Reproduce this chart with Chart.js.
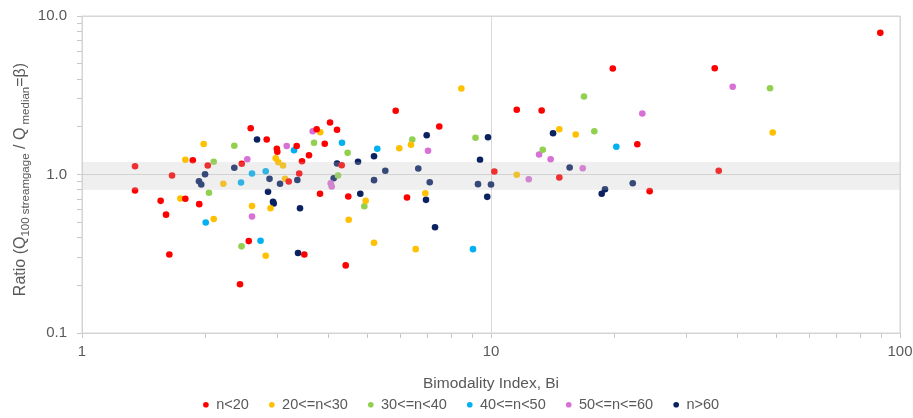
<!DOCTYPE html>
<html><head><meta charset="utf-8">
<script src="https://cdn.jsdelivr.net/npm/chart.js@4.4.1/dist/chart.umd.min.js"></script>
<style>html,body{margin:0;padding:0;background:#fff;}#wrap{width:913px;height:418px;position:relative;}</style>
</head><body><div id="wrap"><canvas id="c"></canvas></div>
<script>
const seriesLabels = ['n<20', '20<=n<30', '30<=n<40', '40<=n<50', '50<=n<=60', 'n>60'];
const seriesColors = ['#FF0000', '#FFC000', '#92D050', '#00B0F0', '#D771D5', '#0A2260'];

const biN20 = [1.348, 1.348, 1.660, 1.557, 1.605, 1.635, 1.789, 1.866, 1.935, 2.030, 2.458, 2.434, 2.585, 2.557, 2.829, 2.995, 3.003, 3.202, 3.349, 3.397, 3.451, 3.589, 3.748, 3.922, 4.041, 4.203, 4.315, 3.819, 4.478, 3.496, 4.413, 5.848, 6.232, 7.474, 10.19, 11.56, 13.30, 14.69, 19.85, 22.79, 24.43, 35.24, 36.04, 89.5];
const ratioN20 = [1.128, 0.793, 0.986, 0.682, 0.558, 0.313, 0.703, 1.229, 0.650, 1.140, 1.170, 0.203, 1.957, 0.380, 1.663, 1.453, 1.391, 0.903, 1.513, 1.015, 1.213, 1.324, 1.931, 1.562, 2.129, 1.914, 1.145, 0.756, 0.726, 0.313, 0.267, 2.523, 0.716, 2.008, 1.045, 2.560, 2.534, 0.957, 4.665, 1.553, 0.785, 4.685, 1.055, 7.83];

const biN20to30 = [1.789, 1.740, 1.984, 2.099, 2.216, 2.604, 2.813, 2.890, 2.976, 3.020, 3.101, 3.136, 3.825, 4.488, 4.939, 5.176, 5.968, 6.374, 6.545, 6.909, 8.462, 11.56, 14.69, 16.11, 48.84];
const ratioN20to30 = [1.238, 0.706, 1.557, 0.524, 0.874, 0.633, 0.307, 0.612, 1.267, 1.196, 1.140, 0.941, 1.849, 0.518, 0.682, 0.371, 1.465, 1.539, 0.338, 0.762, 3.488, 0.996, 1.931, 1.788, 1.841];

const biN30to40 = [2.044, 2.099, 2.357, 2.455, 3.692, 4.226, 4.462, 4.900, 6.420, 9.165, 13.38, 16.88, 17.89, 48.11];
const ratioN30to40 = [0.767, 1.203, 1.517, 0.352, 1.585, 0.986, 1.370, 0.631, 1.663, 1.704, 1.432, 3.105, 1.876, 3.503];

const biN40to50 = [2.007, 2.448, 2.604, 2.732, 2.813, 3.299, 4.322, 5.272, 9.036, 20.25];
const ratioN40to50 = [0.498, 0.890, 1.015, 0.382, 1.049, 1.423, 1.585, 1.453, 0.338, 1.496];

const biN50to60 = [2.536, 2.604, 3.166, 3.665, 4.056, 4.079, 7.015, 13.11, 13.99, 12.37, 16.76, 23.44, 38.99];
const ratioN50to60 = [1.249, 0.543, 1.513, 1.876, 0.881, 0.840, 1.411, 1.337, 1.249, 0.934, 1.096, 2.426, 3.575];

const biN60 = [1.999, 1.932, 1.957, 2.357, 2.679, 2.874, 2.850, 2.931, 2.943, 3.049, 3.361, 3.412, 3.374, 4.125, 4.203, 4.730, 4.791, 5.176, 5.176, 5.515, 6.641, 6.963, 7.083, 6.936, 7.297, 9.400, 9.833, 9.294, 10.0, 9.79, 14.18, 15.57, 18.65, 19.00, 22.21];
const ratioN60 = [1.004, 0.907, 0.865, 1.104, 1.663, 0.939, 0.778, 0.673, 0.656, 0.874, 0.923, 0.613, 0.320, 0.948, 1.173, 1.203, 0.756, 1.305, 0.921, 1.055, 1.091, 1.770, 0.894, 0.692, 0.465, 1.238, 1.719, 0.869, 0.865, 0.723, 1.822, 1.107, 0.756, 0.808, 0.881];

const xTickLabels = ['1', '10', '100'];
const yTickLabels = ['0.1', '1.0', '10.0'];
const bandRange = [0.8, 1.2];
const xTitle = 'Bimodality Index, Bi';
const yTitleParts = [['Ratio (Q', false], ['100 streamgage', true], [' / Q', false], [' median', true], ['=β)', false]];

const seriesX = [biN20, biN20to30, biN30to40, biN40to50, biN50to60, biN60];
const seriesY = [ratioN20, ratioN20to30, ratioN30to40, ratioN40to50, ratioN50to60, ratioN60];

const FONT = "'Liberation Sans', Arial, sans-serif";
const TXT = '#595959';

const datasets = seriesLabels.map((lab, i) => ({
  label: lab,
  data: seriesX[i].map((x, j) => ({x: x, y: seriesY[i][j]})),
  backgroundColor: seriesColors[i],
  borderColor: seriesColors[i],
  borderWidth: 0,
  pointRadius: 3.3,
  pointHoverRadius: 3.3,
  pointStyle: 'circle'
}));

function keepIntegerMantissa(scale) {
  scale.ticks = scale.ticks.filter(t => {
    const e = Math.floor(Math.log10(t.value) + 1e-9);
    const m = t.value / Math.pow(10, e);
    return Math.abs(m - Math.round(m)) < 1e-6;
  }).map(t => {
    const e = Math.floor(Math.log10(t.value) + 1e-9);
    const m = Math.round(t.value / Math.pow(10, e));
    return {value: t.value, major: m === 1};
  });
}
function majorLabel(value, labels) {
  const lg = Math.log10(value);
  if (Math.abs(lg - Math.round(lg)) > 1e-6) return '';
  const hit = labels.find(l => Math.abs(parseFloat(l) - value) < 1e-9);
  return hit || '';
}

const bandPlugin = {
  id: 'band',
  afterDatasetsDraw(chart) {
    const {ctx, chartArea, scales} = chart;
    const y1 = scales.y.getPixelForValue(bandRange[1]);
    const y0 = scales.y.getPixelForValue(bandRange[0]);
    ctx.save();
    ctx.fillStyle = 'rgba(190,190,190,0.25)';
    ctx.fillRect(chartArea.left, y1, chartArea.right - chartArea.left, y0 - y1);
    ctx.restore();
  },
  afterDraw(chart) {
    const {ctx, chartArea} = chart;
    ctx.save();
    ctx.strokeStyle = '#d6d6d6';
    ctx.lineWidth = 1;
    ctx.strokeRect(chartArea.left, chartArea.top, chartArea.right - chartArea.left, chartArea.bottom - chartArea.top);
    // y-axis title with subscripts
    const mainF = '16px ' + FONT, subF = '11.5px ' + FONT;
    let total = 0;
    const widths = yTitleParts.map(p => { ctx.font = p[1] ? subF : mainF; const w = ctx.measureText(p[0]).width; total += w; return w; });
    ctx.translate(25, (chartArea.top + chartArea.bottom) / 2 + 5);
    ctx.rotate(-Math.PI / 2);
    ctx.fillStyle = TXT;
    ctx.textBaseline = 'alphabetic';
    ctx.textAlign = 'left';
    let x = -total / 2;
    yTitleParts.forEach((p, i) => {
      ctx.font = p[1] ? subF : mainF;
      ctx.fillText(p[0], x, p[1] ? 3.5 : 0);
      x += widths[i];
    });
    ctx.restore();
  }
};

new Chart(document.getElementById('c'), {
  type: 'scatter',
  data: {datasets},
  plugins: [bandPlugin],
  options: {
    responsive: true,
    maintainAspectRatio: false,
    animation: false,
    events: [],
    layout: {padding: {top: 16, right: 13, left: 22, bottom: 0}},
    plugins: {
      tooltip: {enabled: false},
      legend: {
        position: 'bottom',
        maxHeight: 40.5,
        labels: {
          usePointStyle: true, pointStyle: 'circle', boxWidth: 6, boxHeight: 4,
          padding: 20, color: TXT, font: {family: FONT, size: 14.5}
        }
      }
    },
    scales: {
      x: {
        type: 'logarithmic', min: 1, max: 100,
        afterBuildTicks: keepIntegerMantissa,
        afterFit(s) { s.height = 44.5; s.paddingLeft = 0; s.paddingRight = 0; },
        border: {display: true, color: '#d0d0d0'},
        grid: {
          color: c => (c.tick && c.tick.major) ? '#d9d9d9' : 'rgba(0,0,0,0)',
          tickColor: '#c8c8c8', tickLength: 5, drawTicks: true, lineWidth: 1
        },
        ticks: {
          autoSkip: false, maxRotation: 0, padding: 5, color: TXT,
          font: {family: FONT, size: 15},
          callback: v => majorLabel(v, xTickLabels)
        },
        title: {display: true, text: xTitle, color: TXT, font: {family: FONT, size: 15.5}, padding: {top: 0, bottom: -15.8}}
      },
      y: {
        type: 'logarithmic', min: 0.1, max: 10,
        afterBuildTicks: keepIntegerMantissa,
        afterFit(s) { s.width = 60; s.paddingTop = 0; s.paddingBottom = 0; },
        border: {display: true, color: '#d0d0d0'},
        grid: {
          color: c => (c.tick && c.tick.major) ? '#d9d9d9' : 'rgba(0,0,0,0)',
          tickColor: '#c8c8c8', tickLength: 5, drawTicks: true, lineWidth: 1
        },
        ticks: {
          autoSkip: false, padding: 10, color: TXT,
          font: {family: FONT, size: 15},
          callback: v => majorLabel(v, yTickLabels)
        }
      }
    }
  }
});
</script>
</body></html>
